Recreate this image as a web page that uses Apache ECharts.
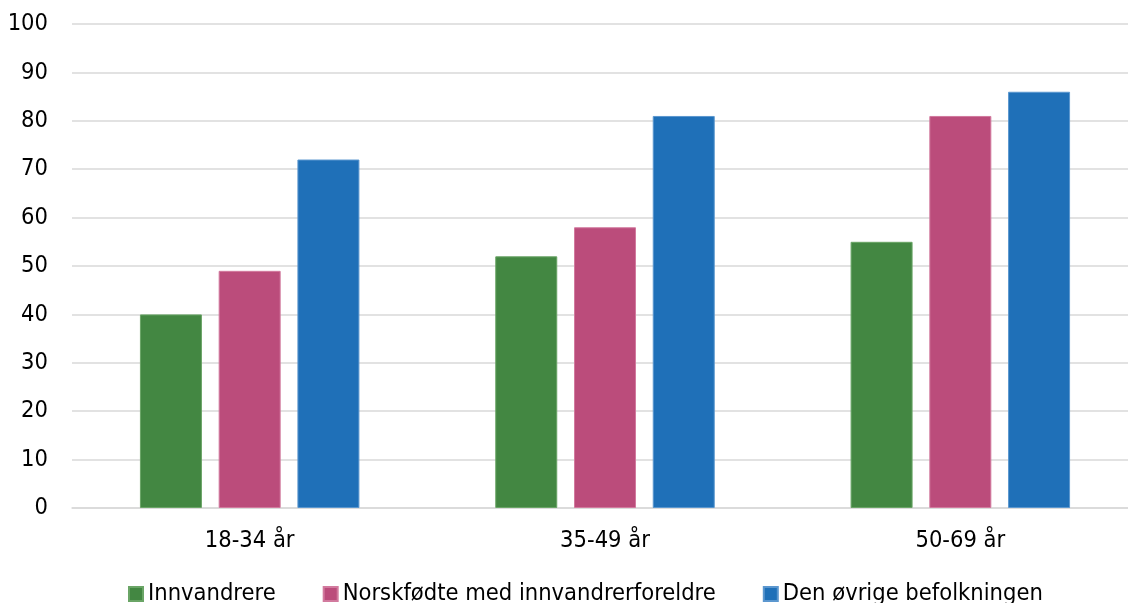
<!DOCTYPE html>
<html>
<head>
<meta charset="utf-8">
<script src="https://cdn.jsdelivr.net/npm/echarts@6/dist/echarts.min.js"></script>
<style>html,body{margin:0;padding:0;background:#fff}#c{width:1128px;height:603px}</style>
</head>
<body>
<div id="c"></div>
<script>
const categories = ['18-34 år', '35-49 år', '50-69 år'];
const seriesNames = ['Innvandrere', 'Norskfødte med innvandrerforeldre', 'Den øvrige befolkningen'];
const innvandrere = [40, 52, 55];
const norskfodte = [49, 58, 81];
const ovrige = [72, 81, 86];
const yTicks = [0, 10, 20, 30, 40, 50, 60, 70, 80, 90, 100];

const colors = ['#438742', '#BB4C7B', '#1F70B8'];
const borders = ['#6aa566', '#d27a9e', '#5b97cf'];
const FONT = '"DejaVu Sans Condensed", "DejaVu Sans", sans-serif';
const FS = 23.5;
const values = [innvandrere, norskfodte, ovrige];

const chart = echarts.init(document.getElementById('c'), null, {renderer: 'canvas'});
chart.setOption({
  animation: false,
  textStyle: {fontFamily: FONT},
  grid: {left: 72, top: 24, width: 1066, height: 484, containLabel: false, outerBoundsMode: 'none'},
  legend: {
    top: 582, left: 128, padding: 0,
    itemWidth: 14, itemHeight: 14, itemGap: 47,
    icon: 'rect',
    textStyle: {fontFamily: FONT, fontSize: FS, color: '#000'},
    data: seriesNames
  },
  xAxis: {
    type: 'category', data: categories,
    axisLine: {show: true, lineStyle: {color: '#d9d9d9', width: 1.5}},
    axisTick: {show: false},
    axisLabel: {color: '#000', fontSize: FS, fontFamily: FONT, margin: 21}
  },
  yAxis: {
    type: 'value', min: yTicks[0], max: yTicks[yTicks.length - 1], interval: 10,
    axisLine: {show: false}, axisTick: {show: false},
    splitLine: {lineStyle: {color: '#d9d9d9', width: 1.5}},
    axisLabel: {color: '#000', fontSize: FS, fontFamily: FONT, margin: 24}
  },
  series: seriesNames.map((n, i) => ({
    name: n, type: 'bar', data: values[i],
    barWidth: 62, barGap: '27%',
    itemStyle: {color: colors[i], borderColor: borders[i], borderWidth: 1}
  }))
});
</script>
</body>
</html>
